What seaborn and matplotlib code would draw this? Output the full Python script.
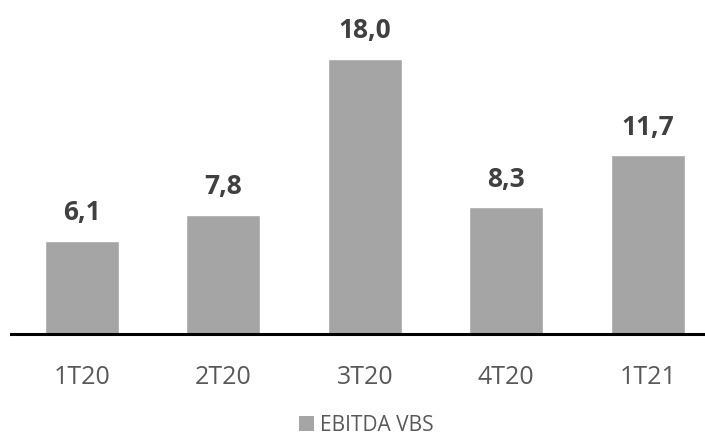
"""
Bar chart of quarterly EBITDA VBS with value labels.
"""

import matplotlib
matplotlib.use('Agg')
import matplotlib.pyplot as plt
from matplotlib.patches import Patch
import pandas as pd
import seaborn as sns

quarters = ['1T20', '2T20', '3T20', '4T20', '1T21']
ebitda_vbs = [6.1, 7.8, 18.0, 8.3, 11.7]
series_name = 'EBITDA VBS'

bar_color = '#a5a5a5'
label_color = '#404040'
tick_color = '#595959'

sns.set_theme(style='white')
plt.rcParams['font.family'] = ['Open Sans', 'DejaVu Sans']

df = pd.DataFrame({'quarter': quarters, 'value': ebitda_vbs})

W, H = 705, 436
fig = plt.figure(figsize=(W / 100, H / 100), dpi=100)
# axes: baseline at y=334px, left edge at x=11px, runs past right edge
ax = fig.add_axes([11 / W, (H - 334) / H, 694 / W, 306 / H])

sns.barplot(data=df, x='quarter', y='value', color=bar_color, width=0.52,
            saturation=1, ax=ax)

ax.set_xlim(-0.5, -0.5 + 694 / 141.5)
ax.set_ylim(0, 20)
ax.set_xlabel('')
ax.set_ylabel('')
ax.set_yticks([])
for side in ['left', 'right', 'top']:
    ax.spines[side].set_visible(False)
ax.spines['bottom'].set_color('black')
ax.spines['bottom'].set_linewidth(2.2)
ax.tick_params(axis='x', length=0, pad=22, labelsize=18, labelcolor=tick_color)

for i, v in enumerate(ebitda_vbs):
    ax.annotate(f'{v:.1f}'.replace('.', ','), (i, v), xytext=(0, 20),
                textcoords='offset points', ha='center', va='center',
                fontsize=19, fontweight='bold', color=label_color)

# legend sits at the very bottom, like the original export
handle = Patch(facecolor=bar_color, edgecolor='none')
fig.legend([handle], [series_name], loc='center', bbox_to_anchor=(0.52, 1 - 425 / H),
           frameon=False, fontsize=15, labelcolor=tick_color,
           handlelength=0.7, handleheight=0.7, handletextpad=0.3,
           borderpad=0.1)

fig.savefig('out.png', dpi=100)
